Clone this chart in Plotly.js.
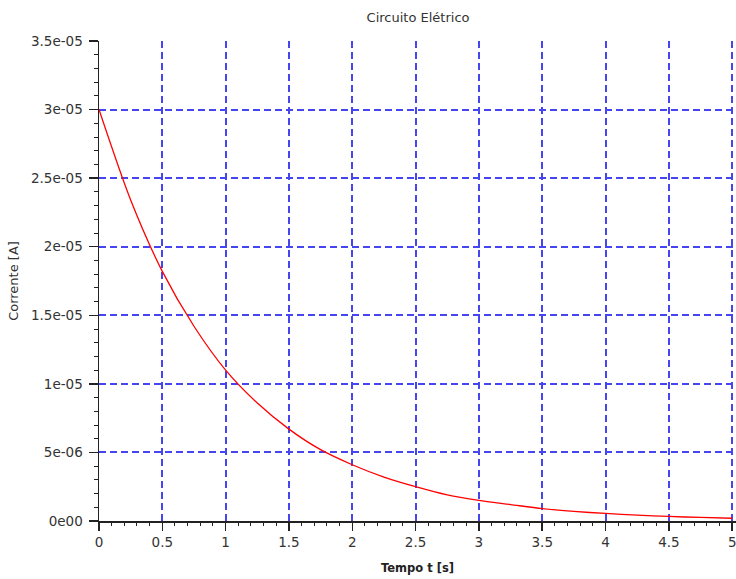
<!DOCTYPE html>
<html>
<head>
<meta charset="utf-8">
<script src="https://cdn.plot.ly/plotly-3.0.1.min.js"></script>
<style>html,body{margin:0;padding:0;background:#fff;}#chart{width:736px;height:579px;}</style>
</head>
<body>
<div id="chart"></div>
<script>
// Values
var tempo = [0, 0.25, 0.5, 0.75, 1.0, 1.25, 1.5, 1.75, 2.0, 2.25, 2.5, 2.75, 3.0, 3.25, 3.5, 3.75, 4.0, 4.25, 4.5, 4.75, 5.0];
var corrente = [3.0e-5, 2.34e-5, 1.82e-5, 1.42e-5, 1.10e-5, 0.86e-5, 0.67e-5, 0.52e-5, 0.41e-5, 0.32e-5, 0.25e-5, 0.19e-5, 0.15e-5, 0.12e-5, 0.09e-5, 0.07e-5, 0.055e-5, 0.043e-5, 0.033e-5, 0.026e-5, 0.02e-5];
var xTickVals = [0, 0.5, 1, 1.5, 2, 2.5, 3, 3.5, 4, 4.5, 5];
var xTickText = ["0", "0.5", "1", "1.5", "2", "2.5", "3", "3.5", "4", "4.5", "5"];
var yTickVals = [0, 5e-6, 1e-5, 1.5e-5, 2e-5, 2.5e-5, 3e-5, 3.5e-5];
var yTickText = ["0e00", "5e-06", "1e-05", "1.5e-05", "2e-05", "2.5e-05", "3e-05", "3.5e-05"];
var xRange = [0, 5.03];
var yRange = [0, 3.5e-5];

var trace = {
  x: tempo, y: corrente, type: 'scatter', mode: 'lines',
  line: {color: '#ff0000', width: 1.3, shape: 'spline', smoothing: 0.8},
  hoverinfo: 'skip'
};
// empty trace so the minor-tick overlay axes are drawn
var minorTrace = {x: [], y: [], type: 'scatter', mode: 'lines', xaxis: 'x2', yaxis: 'y2', hoverinfo: 'skip'};

var fam = 'DejaVu Sans, Verdana, sans-serif';
var tickFont = {family: fam, size: 13.5, color: '#333333'};
var gridCol = '#4646f0';
var layout = {
  width: 736, height: 579,
  margin: {l: 99, r: 0, t: 41, b: 58},
  paper_bgcolor: '#ffffff', plot_bgcolor: '#ffffff',
  showlegend: false,
  font: tickFont,
  title: {text: 'Circuito Elétrico', font: {family: fam, size: 13, color: '#333333'}, x: 0.568, xanchor: 'center', y: 0.9706, yanchor: 'middle'},
  xaxis: {
    range: xRange, tickvals: xTickVals, ticktext: xTickText,
    showgrid: true, gridcolor: gridCol, griddash: '7px,4px', gridwidth: 2,
    zeroline: false, showline: true, linecolor: '#222222', linewidth: 1.5,
    ticks: 'outside', ticklen: 8, tickcolor: '#222222', tickwidth: 1.5,
    ticklabeloverflow: 'allow',
    tickfont: tickFont,
    title: {text: '<b>Tempo t [s]</b>', font: {family: fam, size: 11.5, color: '#222222'}, standoff: 15}
  },
  yaxis: {
    range: yRange, tickvals: yTickVals, ticktext: yTickText,
    showgrid: true, gridcolor: gridCol, griddash: '7px,4px', gridwidth: 2,
    zeroline: false, showline: true, linecolor: '#222222', linewidth: 1.5,
    ticks: 'outside', ticklen: 9, tickcolor: '#222222', tickwidth: 1.5,
    ticklabelstandoff: 3,
    tickfont: tickFont,
    title: {text: 'Corrente [A]', font: {family: fam, size: 13, color: '#333333'}, standoff: 9}
  },
  xaxis2: {
    overlaying: 'x', anchor: 'y', side: 'bottom', range: xRange,
    tickmode: 'linear', tick0: 0, dtick: 0.1,
    ticks: 'outside', ticklen: 4, tickcolor: '#222222', tickwidth: 1,
    showticklabels: false, showgrid: false, zeroline: false, showline: false
  },
  yaxis2: {
    overlaying: 'y', anchor: 'x', side: 'left', range: yRange,
    tickmode: 'linear', tick0: 0, dtick: 1e-6,
    ticks: 'outside', ticklen: 4, tickcolor: '#222222', tickwidth: 1,
    showticklabels: false, showgrid: false, zeroline: false, showline: false
  }
};
Plotly.newPlot('chart', [trace, minorTrace], layout, {displayModeBar: false, staticPlot: true});
</script>
</body>
</html>
